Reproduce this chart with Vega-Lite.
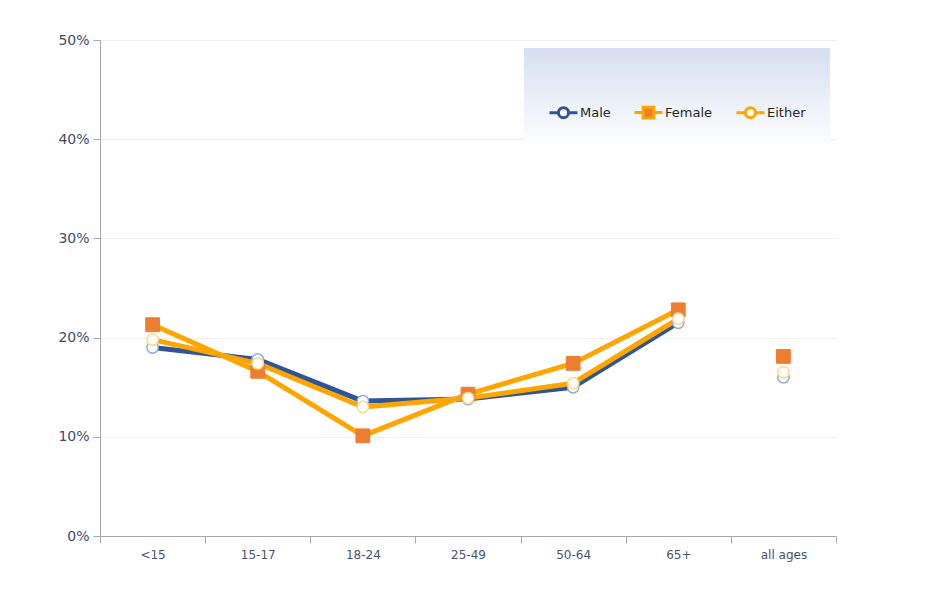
{
  "$schema": "https://vega.github.io/schema/vega-lite/v6.json",
  "width": 736,
  "height": 496,
  "autosize": {"type": "none"},
  "padding": {"left": 100, "top": 40, "right": 102, "bottom": 60},
  "background": "#FFFFFF",
  "config": {
    "view": {"stroke": null},
    "font": "DejaVu Sans"
  },
  "data": {
    "values": [
      {"age": "<15", "series": "Male", "value": 0.190},
      {"age": "15-17", "series": "Male", "value": 0.178},
      {"age": "18-24", "series": "Male", "value": 0.136},
      {"age": "25-49", "series": "Male", "value": 0.138},
      {"age": "50-64", "series": "Male", "value": 0.150},
      {"age": "65+", "series": "Male", "value": 0.215},
      {"age": "all ages", "series": "Male", "value": 0.160},
      {"age": "<15", "series": "Female", "value": 0.213},
      {"age": "15-17", "series": "Female", "value": 0.166},
      {"age": "18-24", "series": "Female", "value": 0.101},
      {"age": "25-49", "series": "Female", "value": 0.143},
      {"age": "50-64", "series": "Female", "value": 0.174},
      {"age": "65+", "series": "Female", "value": 0.228},
      {"age": "all ages", "series": "Female", "value": 0.181},
      {"age": "<15", "series": "Either", "value": 0.198},
      {"age": "15-17", "series": "Either", "value": 0.174},
      {"age": "18-24", "series": "Either", "value": 0.130},
      {"age": "25-49", "series": "Either", "value": 0.139},
      {"age": "50-64", "series": "Either", "value": 0.154},
      {"age": "65+", "series": "Either", "value": 0.219},
      {"age": "all ages", "series": "Either", "value": 0.165}
    ]
  },
  "encoding": {
    "x": {
      "field": "age",
      "type": "nominal",
      "sort": ["<15", "15-17", "18-24", "25-49", "50-64", "65+", "all ages"],
      "scale": {"domain": ["<15", "15-17", "18-24", "25-49", "50-64", "65+", "all ages"], "paddingInner": 0, "paddingOuter": 0},
      "axis": {
        "title": null,
        "labelAngle": 0,
        "tickBand": "extent",
        "grid": false,
        "domainColor": "#A6A6A6",
        "tickColor": "#A6A6A6",
        "tickSize": 7,
        "labelColor": "#44546A",
        "labelFontSize": 12,
        "labelPadding": 6
      }
    },
    "y": {
      "field": "value",
      "type": "quantitative",
      "scale": {"domain": [0, 0.5], "nice": false},
      "axis": {
        "title": null,
        "format": ".0%",
        "values": [0, 0.1, 0.2, 0.3, 0.4, 0.5],
        "grid": true,
        "gridColor": "#EEEEEE",
        "domainColor": "#A6A6A6",
        "tickColor": "#A6A6A6",
        "tickSize": 7,
        "labelColor": "#3E4C6D",
        "labelFontSize": 14,
        "labelPadding": 4
      }
    }
  },
  "layer": [
    {
      "transform": [{"filter": "datum.age !== 'all ages'"}],
      "mark": {"type": "line", "strokeWidth": 5, "strokeCap": "round", "strokeJoin": "round"},
      "encoding": {
        "color": {
          "field": "series",
          "type": "nominal",
          "scale": {"domain": ["Male", "Female", "Either"], "range": ["#2F5597", "#FFA500", "#FFA500"]},
          "legend": {
            "title": " ",
            "titleFontSize": 4,
            "titlePadding": 21,
            "orient": "none",
            "legendX": 424,
            "legendY": 8,
            "direction": "horizontal",
            "padding": 24,
            "columnPadding": 17,
            "labelOffset": 1,
            "labelFontSize": 13,
            "labelColor": "#262626",
            "symbolSize": 784,
            "symbolStrokeWidth": 3,
            "encode": {
              "legend": {
                "update": {
                  "fill": {"value": {"gradient": "linear", "x1": 0, "y1": 0, "x2": 0, "y2": 1, "stops": [{"offset": 0, "color": "#D6DFF0"}, {"offset": 1, "color": "#FFFFFF"}]}},
                  "stroke": {"value": null}
                }
              },
              "symbols": {
                "update": {
                  "shape": {"signal": "datum.value === 'Female' ? 'M-1,0H-0.38M0.38,0H1M-0.38,-0.38H0.38V0.38H-0.38Z' : 'M-1,0H-0.36M0.36,0H1M0.36,0A0.36,0.36 0 1 0 -0.36,0A0.36,0.36 0 1 0 0.36,0Z'"},
                  "size": {"value": 784},
                  "fill": {"signal": "datum.value === 'Female' ? '#ED7D31' : '#FFFFFF'"},
                  "stroke": {"signal": "datum.value === 'Male' ? '#2F5597' : '#FFA500'"},
                  "strokeWidth": {"value": 3},
                  "opacity": {"value": 1}
                }
              }
            }
          }
        }
      }
    },
    {
      "transform": [{"filter": "datum.series === 'Male'"}],
      "mark": {"type": "point", "shape": "circle", "filled": true, "fill": "#FFFFFF", "stroke": "#8EA9DB", "strokeWidth": 1.5, "size": 130, "opacity": 1}
    },
    {
      "transform": [{"filter": "datum.series === 'Female'"}],
      "mark": {"type": "point", "shape": "square", "filled": true, "fill": "#ED7D31", "stroke": "#ED7D31", "strokeWidth": 1, "size": 190, "opacity": 1}
    },
    {
      "transform": [{"filter": "datum.series === 'Either'"}],
      "mark": {"type": "point", "shape": "circle", "filled": true, "fill": "#FFFFFF", "stroke": "#FFD78A", "strokeWidth": 1.5, "size": 130, "opacity": 1}
    }
  ]
}
